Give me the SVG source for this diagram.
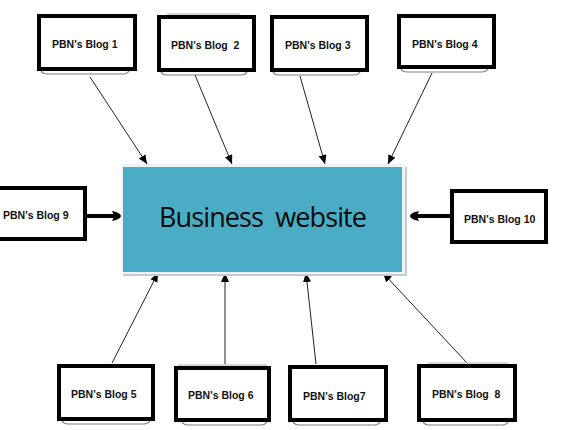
<svg xmlns="http://www.w3.org/2000/svg" width="569" height="430" viewBox="0 0 569 430">
<style>
.box{fill:#fff;stroke:#000;stroke-width:4}
.lbl{font-family:"Liberation Sans",Arial,sans-serif;font-weight:bold;font-size:10.5px;fill:#111}
.br{fill:none;stroke:#808080;stroke-width:1.2}
.tp{fill:none;stroke:#c8c8c8;stroke-width:1.5}
.c{stroke:#222;stroke-width:1;fill:none;marker-end:url(#ah)}
.t{stroke:#000;stroke-width:4;fill:none;marker-end:url(#th)}
</style>
<defs>
<marker id="ah" markerUnits="userSpaceOnUse" markerWidth="10" markerHeight="8" refX="9" refY="4" orient="auto">
<path d="M0,0 L9,4 L0,8 Z" fill="#000"/>
</marker>
<marker id="th" markerUnits="userSpaceOnUse" markerWidth="10" markerHeight="12" refX="8" refY="6" orient="auto">
<path d="M0,1 Q3,6 0,11 L4,10 Q9,8 9,6 Q9,4 4,2 Z" fill="#000"/>
</marker>
</defs>
<rect width="569" height="430" fill="#fff"/>
<g id="connectors">
<line class="c" x1="90" y1="77" x2="147" y2="164"/>
<line class="c" x1="195" y1="75" x2="232" y2="164"/>
<line class="c" x1="300" y1="76" x2="325" y2="164"/>
<line class="c" x1="432" y1="73" x2="388" y2="164"/>
<line class="c" x1="112" y1="363" x2="158" y2="273"/>
<line class="c" x1="225" y1="364" x2="225" y2="273"/>
<line class="c" x1="316" y1="364" x2="306" y2="273"/>
<line class="c" x1="468" y1="364" x2="383" y2="273"/>
<line class="t" x1="87" y1="216" x2="120" y2="216"/>
<line class="t" x1="450" y1="216" x2="411" y2="216"/>
</g>
<g id="business">
<rect x="123" y="167" width="284" height="109" fill="#c4cacd"/>
<rect x="121" y="164" width="284" height="110" fill="#eef3f5"/>
<rect x="123" y="167" width="279" height="105" fill="#4bacc6"/>
<text x="263" y="227" text-anchor="middle" font-family="'Open Sans','Noto Sans',sans-serif" font-size="27" fill="#0a0a0a" textLength="208" xml:space="preserve">Business  website</text>
</g>
<g id="blog1">
<path class="br" d="M41,71 Q43,74 47,74 L123,74 Q127,74 129,71"/>
<rect class="box" x="39" y="16" width="96" height="53"/>
<text class="lbl" x="52" y="48">PBN's Blog 1</text>
</g>
<g id="blog2">
<path class="tp" d="M167,14 L240,14"/>
<path class="br" d="M161,72 Q163,75 167,75 L241,75 Q245,75 247,72"/>
<rect class="box" x="159" y="17" width="95" height="53"/>
<text class="lbl" x="171" y="49" xml:space="preserve">PBN's Blog  2</text>
</g>
<g id="blog3">
<path class="br" d="M273,72 Q275,75 279,75 L354,75 Q358,75 360,72"/>
<rect class="box" x="272" y="17" width="95" height="53"/>
<text class="lbl" x="285" y="49">PBN's Blog 3</text>
</g>
<g id="blog4">
<path class="br" d="M401,69 Q403,72 407,72 L482,72 Q486,72 488,69"/>
<rect class="box" x="399" y="16" width="95" height="51"/>
<text class="lbl" x="412" y="48">PBN's Blog 4</text>
</g>
<g id="blog9">
<rect class="box" x="-5" y="188" width="90" height="51"/>
<text class="lbl" x="3" y="219">PBN's Blog 9</text>
</g>
<g id="blog10">
<rect class="box" x="452" y="191" width="94" height="51"/>
<text class="lbl" x="464" y="223">PBN's Blog 10</text>
</g>
<g id="blog5">
<path class="br" d="M62,421 Q64,424 68,424 L144,424 Q148,424 150,421"/>
<rect class="box" x="59" y="366" width="94" height="53"/>
<text class="lbl" x="71" y="398">PBN's Blog 5</text>
</g>
<g id="blog6">
<path class="tp" d="M178,365 L267,365"/>
<path class="br" d="M182,422 Q184,425 188,425 L261,425 Q265,425 267,422"/>
<rect class="box" x="176" y="368" width="93" height="52"/>
<text class="lbl" x="188" y="399">PBN's Blog 6</text>
</g>
<g id="blog7">
<path class="br" d="M293,422 Q295,425 299,425 L374,425 Q378,425 380,422"/>
<rect class="box" x="290" y="367" width="96" height="53"/>
<text class="lbl" x="303" y="400">PBN's Blog7</text>
</g>
<g id="blog8">
<path class="tp" d="M428,363 L508,363"/>
<path class="br" d="M423,422 Q425,425 429,425 L502,425 Q506,425 508,422"/>
<rect class="box" x="419" y="366" width="96" height="54"/>
<text class="lbl" x="432" y="398" xml:space="preserve">PBN's Blog  8</text>
</g>
</svg>
